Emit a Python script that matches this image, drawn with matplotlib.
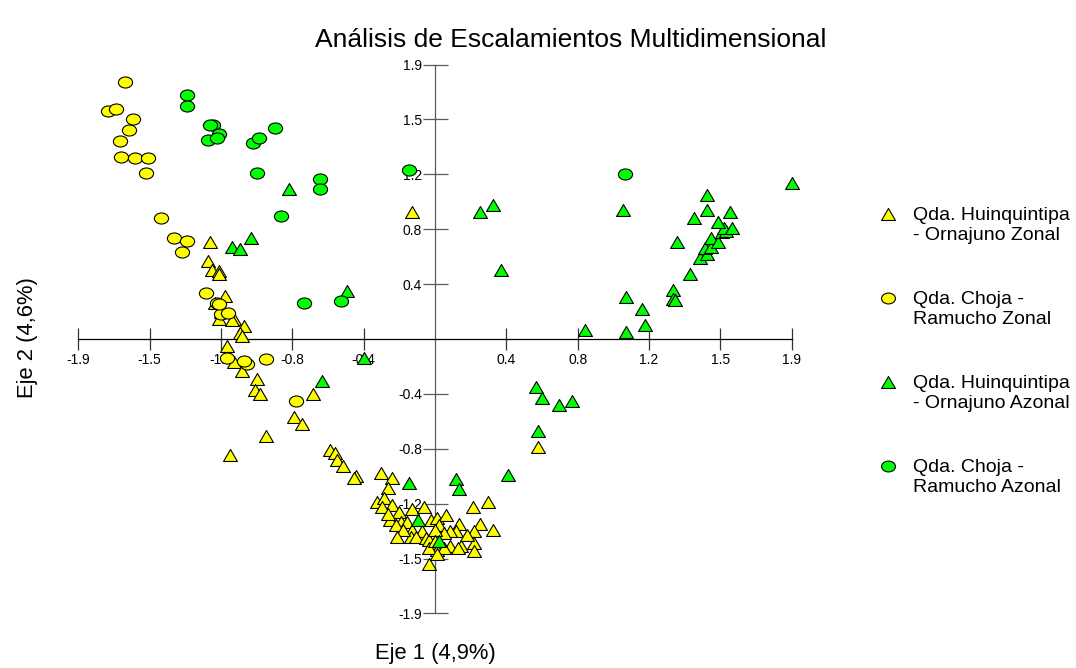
import numpy as np
import matplotlib
matplotlib.use("Agg")
import matplotlib.pyplot as plt
from matplotlib.path import Path
from matplotlib.transforms import Affine2D
from matplotlib.lines import Line2D

# --- MDS coordinates (Eje 1, Eje 2) per group ---
hz_x = [-0.12, -1.20, -1.21, -1.19, -1.15, -1.15, -1.12, -1.17, -1.14, -1.15, -1.07, -1.08,
        -1.02, -1.04, -1.03, -1.11, -1.07, -1.03, -0.95, -0.96, -0.93, -0.90, -1.09, -0.65,
        -0.75, -0.71, -0.56, -0.53, -0.52, -0.49, -0.42, -0.43, -0.29, -0.23, -0.25, -0.31,
        -0.27, -0.23, -0.28, -0.19, -0.12, -0.06, 0.20, 0.28, -0.24, -0.18, -0.15, -0.02,
        0.01, 0.06, 0.13, 0.11, 0.08, 0.24, 0.31, 0.21, -0.12, -0.07, -0.13, -0.10,
        -0.05, 0.02, -0.03, 0.08, 0.14, 0.21, 0.21, 0.01, -0.03, 0.05, 0.12, -0.03,
        0.01, 0.55, -0.25, -0.21, -0.17, -0.20, 0.05, 0.17, 0.00, 0.00]
hz_y = [0.88, 0.67, 0.54, 0.48, 0.47, 0.45, 0.30, 0.25, 0.19, 0.14, 0.14, 0.13,
        0.09, 0.04, 0.02, -0.05, -0.16, -0.22, -0.28, -0.35, -0.38, -0.67, -0.80, -0.38,
        -0.54, -0.59, -0.77, -0.79, -0.84, -0.88, -0.95, -0.96, -0.93, -0.96, -1.03, -1.13,
        -1.10, -1.15, -1.16, -1.20, -1.18, -1.16, -1.16, -1.13, -1.25, -1.27, -1.27, -1.25,
        -1.24, -1.22, -1.28, -1.33, -1.33, -1.28, -1.32, -1.33, -1.32, -1.33, -1.37, -1.37,
        -1.38, -1.29, -1.39, -1.43, -1.43, -1.41, -1.47, -1.46, -1.45, -1.45, -1.45, -1.56,
        -1.49, -0.75, -1.21, -1.29, -1.32, -1.37, -1.34, -1.36, -1.32, -1.40]

cz_x = [-1.65, -1.74, -1.70, -1.61, -1.63, -1.68, -1.67, -1.60, -1.53, -1.54, -1.46, -1.39,
        -1.32, -1.35, -1.22, -1.16, -1.14, -1.10, -1.15, -1.11, -1.00, -1.02, -0.90, -0.74]
cz_y = [1.78, 1.58, 1.59, 1.52, 1.45, 1.37, 1.26, 1.25, 1.25, 1.15, 0.84, 0.70,
        0.68, 0.60, 0.32, 0.25, 0.17, 0.18, 0.24, -0.13, -0.17, -0.15, -0.14, -0.43]

ha_x = [-0.78, -1.08, -1.04, -0.98, -0.47, -0.60, -0.38, -0.14, -0.09, 0.02, 0.11, 0.13,
        0.39, 0.55, 0.54, 0.57, 0.66, 0.73, 0.24, 0.31, 0.35, 0.80, 1.00, 1.02,
        1.02, 1.10, 1.12, 1.27, 1.27, 1.28, 1.29, 1.36, 1.41, 1.45, 1.44, 1.47,
        1.47, 1.51, 1.53, 1.55, 1.54, 1.58, 1.51, 1.57, 1.38, 1.45, 1.45, 1.90]
ha_y = [1.04, 0.64, 0.62, 0.70, 0.33, -0.29, -0.13, -1.00, -1.25, -1.40, -0.97, -1.04,
        -0.94, -0.64, -0.33, -0.41, -0.46, -0.43, 0.88, 0.93, 0.48, 0.06, 0.89, 0.29,
        0.05, 0.21, 0.10, 0.34, 0.28, 0.27, 0.67, 0.45, 0.56, 0.59, 0.63, 0.64,
        0.70, 0.67, 0.74, 0.75, 0.77, 0.77, 0.81, 0.88, 0.84, 0.89, 1.00, 1.08]

ca_x = [-1.32, -1.32, -1.18, -1.20, -1.15, -1.21, -1.16, -0.97, -0.94, -0.85, -0.95, -0.61,
        -0.61, -0.82, -0.70, -0.50, -0.14, 1.01]
ca_y = [1.69, 1.61, 1.48, 1.48, 1.42, 1.38, 1.39, 1.36, 1.39, 1.46, 1.15, 1.11,
        1.04, 0.85, 0.25, 0.26, 1.17, 1.14]

tick_vals = [-1.9, -1.52, -1.14, -0.76, -0.38, 0.38, 0.76, 1.14, 1.52, 1.9]
tick_labels = ["-1.9", "-1.5", "-1.2", "-0.8", "-0.4", "0.4", "0.8", "1.2", "1.5", "1.9"]

legend_labels = [("Qda. Huinquintipa", "- Ornajuno Zonal"),
                 ("Qda. Choja -", "Ramucho Zonal"),
                 ("Qda. Huinquintipa", "- Ornajuno Azonal"),
                 ("Qda. Choja -", "Ramucho Azonal")]

YELLOW = "#FFFF00"
GREEN = "#00FF00"

plt.rcParams["font.family"] = ["Liberation Sans", "DejaVu Sans"]

# flattened triangle and ellipse markers
tri_marker = Path([(0, 0.43), (-0.5, -0.43), (0.5, -0.43), (0, 0.43)],
                  [Path.MOVETO, Path.LINETO, Path.LINETO, Path.CLOSEPOLY])
ell_marker = Path.unit_circle().transformed(Affine2D().scale(0.5, 0.39))

fig = plt.figure(figsize=(10.76, 6.68), dpi=100)
W, H = 1076, 668
ax = fig.add_axes([78.3 / W, 1 - 613.4 / H, 713.4 / W, 548.8 / H])
ax.set_xlim(-1.9, 1.9)
ax.set_ylim(-1.9, 1.9)
ax.patch.set_visible(False)

style = dict(linestyle="none", markeredgecolor="black", markeredgewidth=0.8, clip_on=False)
ax.plot(hz_x, hz_y, marker=tri_marker, markersize=10, markerfacecolor=YELLOW, zorder=3, **style)
ax.plot(cz_x, cz_y, marker=ell_marker, markersize=10.2, markerfacecolor=YELLOW, zorder=3, **style)
ax.plot(ha_x, ha_y, marker=tri_marker, markersize=10, markerfacecolor=GREEN, zorder=4, **style)
ax.plot(ca_x, ca_y, marker=ell_marker, markersize=10.2, markerfacecolor=GREEN, zorder=4, **style)

# axes crossing at the origin
for side in ("top", "right"):
    ax.spines[side].set_visible(False)
ax.spines["left"].set_position(("data", 0))
ax.spines["bottom"].set_position(("data", 0))
ax.spines["bottom"].set_color("black")
ax.spines["left"].set_color("#5a5a5a")
ax.spines["bottom"].set_linewidth(0.9)
ax.spines["left"].set_linewidth(0.9)
ax.set_xticks(tick_vals)
ax.set_xticklabels(tick_labels)
ax.set_yticks(tick_vals)
ax.set_yticklabels(tick_labels)
ax.tick_params(axis="x", direction="inout", length=16, width=0.9, pad=1.8,
               labelsize=10, color="#333333")
ax.tick_params(axis="y", direction="inout", length=18, width=0.9, pad=0.5,
               labelsize=10, color="#5a5a5a")

fig.text(571 / W, 1 - 40 / H, "Análisis de Escalamientos Multidimensional",
         ha="center", va="center", fontsize=19)
fig.text(435 / W, 1 - 653 / H, "Eje 1 (4,9%)", ha="center", va="center", fontsize=15.8)
fig.text(28 / W, 1 - 338 / H, "Eje 2 (4,6%)", ha="center", va="center",
         rotation=90, fontsize=15.8)

# legend
leg_markers = [(tri_marker, YELLOW), (ell_marker, YELLOW), (tri_marker, GREEN), (ell_marker, GREEN)]
leg_y = [214, 298, 382, 466]
for (mk, col), (l1, l2), yy in zip(leg_markers, legend_labels, leg_y):
    fig.add_artist(Line2D([888 / W], [1 - yy / H], transform=fig.transFigure,
                          marker=mk, markersize=10, markerfacecolor=col, **style))
    fig.text(913 / W, 1 - (yy + 1) / H, l1, ha="left", va="center", fontsize=14)
    fig.text(913 / W, 1 - (yy + 21) / H, l2, ha="left", va="center", fontsize=14)

fig.savefig("out.png", dpi=100)
